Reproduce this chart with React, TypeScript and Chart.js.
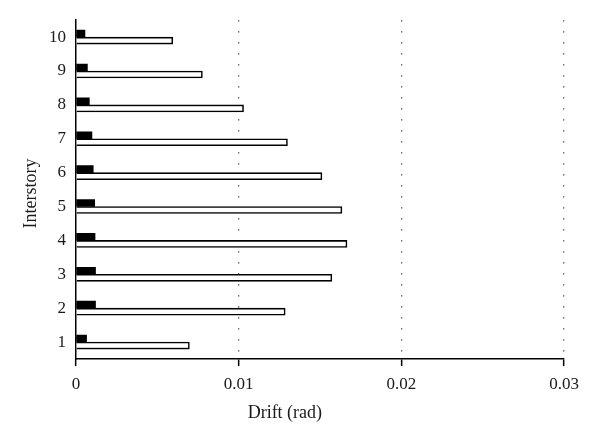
import React, { useEffect, useRef } from "react";
import { Chart, registerables } from "chart.js";

Chart.register(...registerables);

const stories = ["1", "2", "3", "4", "5", "6", "7", "8", "9", "10"];
const blackSeries = [0.00065, 0.0012, 0.0012, 0.00117, 0.00115, 0.00106, 0.00098, 0.00082, 0.0007, 0.00055];
const whiteSeries = [0.00697, 0.01286, 0.01573, 0.01666, 0.01635, 0.01512, 0.013, 0.0103, 0.00777, 0.00595];
const xTickValues = [0, 0.01, 0.02, 0.03];
const xTickLabels = ["0", "0.01", "0.02", "0.03"];
const xTitle = "Drift (rad)";
const yTitle = "Interstory";

const FONT = "'Liberation Serif', 'Times New Roman', serif";
const INK = "#1a1a1a";

const titlePlugin = {
  id: "axisTitles",
  afterDraw(chart: any) {
    const { ctx, chartArea } = chart;
    ctx.save();
    ctx.fillStyle = INK;
    ctx.font = `18px ${FONT}`;
    ctx.textAlign = "center";
    ctx.textBaseline = "middle";
    const xw = chartArea.right - chartArea.left;
    ctx.fillText(xTitle, chartArea.left + xw * 0.428, 413);
    ctx.translate(31.5, (chartArea.top + chartArea.bottom) / 2 + 4);
    ctx.rotate(-Math.PI / 2);
    ctx.fillText(yTitle, 0, 0);
    ctx.restore();
  },
};

export default function App() {
  const ref = useRef<HTMLCanvasElement>(null);
  useEffect(() => {
    if (!ref.current) return;
    const chart = new Chart(ref.current, {
      type: "bar",
      data: {
        labels: stories,
        datasets: [
          {
            label: "A",
            data: blackSeries,
            backgroundColor: "#000",
            borderWidth: 0,
            barThickness: 7,
          },
          {
            label: "B",
            data: whiteSeries,
            backgroundColor: "#fff",
            borderColor: "#000",
            borderWidth: 1.6,
            barThickness: 7,
          },
        ],
      },
      options: {
        indexAxis: "y",
        animation: false,
        responsive: false,
        devicePixelRatio: 1,
        layout: { padding: { left: 0, right: 36, top: 20, bottom: 0 } },
        plugins: { legend: { display: false }, tooltip: { enabled: false } },
        scales: {
          x: {
            type: "linear",
            min: 0,
            max: 0.03,
            afterBuildTicks: (scale: any) => {
              scale.ticks = xTickValues.map((v) => ({ value: v }));
            },
            afterFit: (scale: any) => {
              scale.height = 86;
            },
            ticks: {
              color: INK,
              font: { family: FONT, size: 17 },
              padding: 8,
              maxRotation: 0,
              callback: (_v: any, i: number) => xTickLabels[i],
            },
            grid: {
              display: true,
              drawOnChartArea: true,
              drawTicks: true,
              tickLength: 7,
              tickColor: "#000",
              tickWidth: 1.5,
              tickBorderDash: [],
              color: (c: any) => (c.tick && c.tick.value === 0 ? "rgba(0,0,0,0)" : "#444"),
              lineWidth: 1.3,
            },
            border: { display: true, color: "#000", width: 1.5, dash: [1.3, 9.7] },
          },
          y: {
            type: "category",
            reverse: true,
            afterFit: (scale: any) => {
              scale.width = 76;
            },
            ticks: {
              color: INK,
              font: { family: FONT, size: 17 },
              padding: 10,
            },
            grid: { display: true, drawOnChartArea: false, drawTicks: false, color: "rgba(0,0,0,0)" },
            border: { display: true, color: "#000", width: 1.5 },
          },
        },
      },
      plugins: [titlePlugin],
    } as any);
    return () => chart.destroy();
  }, []);
  return (
    <div style={{ position: "absolute", left: 0, top: 0, width: 600, height: 445, background: "#fff" }}>
      <canvas ref={ref} width={600} height={445} />
    </div>
  );
}
